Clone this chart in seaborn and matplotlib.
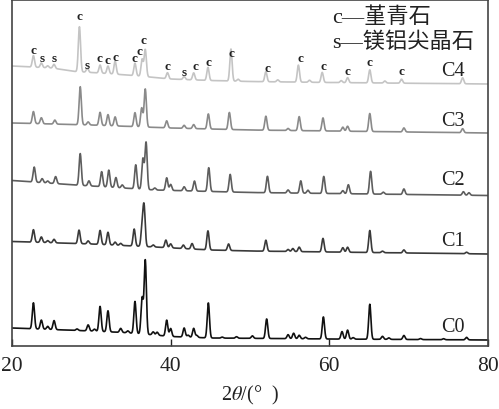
import numpy as np
import pandas as pd
import matplotlib
matplotlib.use('Agg')
import matplotlib.pyplot as plt
import seaborn as sns

# XRD patterns C0..C4: peak positions (2theta) and heights, background levels
# all intensities in the same arbitrary units (stacked plot)
samples = ['C0', 'C1', 'C2', 'C3', 'C4']
colors = ['#111111', '#3a3a3a', '#5e5e5e', '#8a8a8a', '#c4c4c4']

bg_pos = {
    'C0': [20, 30, 34, 38, 40, 45, 60, 80],
    'C1': [20, 30, 38, 45, 50, 60, 80],
    'C2': [20, 28, 38, 50, 60, 80],
    'C3': [20, 30, 40, 50, 60, 80],
    'C4': [20, 25, 28, 32, 36, 40, 45, 50, 60, 80],
}
bg_level = {
    'C0': [18, 15, 13.5, 11, 9.5, 8, 7, 6],
    'C1': [104.5, 102, 99, 96, 95, 94, 92],
    'C2': [165.5, 161, 156, 153.5, 152.5, 150.5],
    'C3': [223, 221, 218, 216, 215, 213],
    'C4': [280, 278, 274.5, 272.5, 270, 267, 265.5, 264.5, 263.5, 262],
}

peak_pos = {
    'C0': [22.7, 23.7, 24.5, 25.3, 28.2, 29.6, 30.4, 31.1, 32.1, 33.7, 34.6, 35.5, 36.4, 36.8,
           37.8, 38.3, 39.5, 40.0, 41.7, 42.2, 42.9, 43.3, 44.75, 46.5, 48.3, 50.3, 52.1,
           54.8, 55.5, 56.2, 57.0, 59.25, 61.6, 62.3, 63.0, 65.1, 66.7, 67.5, 69.4, 71.5,
           74.4, 77.3],
    'C1': [22.7, 23.7, 24.5, 25.3, 28.45, 29.6, 31.1, 32.1, 33.0, 33.7, 35.4, 36.4, 36.65,
           37.8, 39.4, 40.0, 41.6, 42.7, 44.7, 47.3, 52.0, 54.8, 55.4, 56.2, 59.2, 61.7,
           62.3, 65.1, 66.7, 69.4, 77.3],
    'C2': [22.8, 23.8, 24.5, 25.5, 28.6, 29.7, 31.3, 32.2, 33.1, 33.9, 35.6, 36.5, 36.9,
           38.0, 39.5, 40.0, 41.7, 43.0, 44.8, 47.5, 52.2, 54.8, 56.4, 57.3, 59.3, 61.7,
           62.4, 65.2, 66.8, 69.4, 76.9, 77.6],
    'C3': [22.7, 23.7, 25.4, 28.6, 29.6, 31.1, 32.1, 33.0, 35.5, 36.35, 36.8, 39.5, 41.7,
           42.9, 44.75, 47.4, 52.0, 54.8, 56.2, 59.2, 61.7, 62.3, 65.1, 69.4, 76.8],
    'C4': [22.7, 23.7, 24.5, 25.3, 28.5, 29.5, 31.1, 32.1, 33.0, 35.5, 36.4, 36.8, 39.6,
           41.7, 42.9, 44.7, 47.6, 48.5, 52.0, 53.5, 56.1, 57.5, 59.1, 61.5, 62.3, 65.1,
           67.0, 69.1, 76.8],
}
peak_height = {
    'C0': [26, 9, 3, 9, 1.5, 6, 2, 25, 21, 4, 2, 32, 36, 74,
           3, 3, 16, 8, 9, 2, 9, 2, 35, 1, 1.5, 2.5, 19.5,
           4, 5.5, 3.5, 1.5, 22, 7.5, 9, 1.5, 35, 3, 1.5, 4, 1,
           1, 2.5],
    'C1': [12.5, 5.5, 2, 3.5, 13.5, 3, 14, 12.5, 3, 2, 17, 19, 39,
           2, 7.5, 4, 3.5, 5.5, 19, 6.5, 11, 2, 3, 4.5, 13.5, 4.5,
           5, 22, 1.5, 3, 1.5],
    'C2': [15, 4, 2, 7, 31.7, 5, 15, 17, 10, 3, 24, 30.5, 47,
           2, 12.5, 6, 4, 10, 23.7, 17.6, 16.4, 3, 12.3, 3, 17, 3,
           9, 22.7, 2, 5.5, 3.5, 2.5],
    'C3': [12, 6, 4, 38, 3, 13, 11, 9, 14, 19, 38, 7, 3,
           4, 15, 17, 14, 2, 14, 13, 4, 5, 18, 4, 4],
    'C4': [11.5, 4.5, 2, 4, 45, 4, 8, 7.5, 13, 12.5, 17, 27, 6,
           3, 7, 13, 32, 2, 10, 2, 17, 2, 10, 2, 5, 13,
           2, 4, 6],
}

# phase marks above C4: c = cordierite, s = spinel
mark_text = ['c', 's', 's', 'c', 's', 'c', 'c', 'c', 'c', 'c', 'c', 'c', 's', 'c', 'c',
             'c', 'c', 'c', 'c', 'c', 'c', 'c']
mark_pos = [22.7, 23.8, 25.3, 28.5, 29.5, 31.0, 32.0, 33.1, 35.4, 36.1, 36.6, 39.6, 41.7,
            43.1, 44.7, 47.6, 52.2, 56.3, 59.2, 62.3, 65.1, 69.1]
mark_level = [296, 287.7, 287.7, 329.7, 281, 288, 286.3, 288.7, 288, 295.3, 306.3, 280.3,
              273.7, 279.7, 283.7, 293, 278, 287.7, 280.3, 275.3, 283.7, 275.3]

label_level = [19.5, 105, 166, 225, 276]

two_theta = np.linspace(20, 80, 3001)
sigma = 0.14

rows = []
for s in samples:
    y = np.interp(two_theta, bg_pos[s], bg_level[s])
    for p, h in zip(peak_pos[s], peak_height[s]):
        y = y + h * np.exp(-0.5 * ((two_theta - p) / sigma) ** 2)
    rows.append(pd.DataFrame({'two_theta': two_theta, 'intensity': y, 'sample': s}))
df = pd.concat(rows, ignore_index=True)

sns.set_style('ticks')
plt.rcParams['font.family'] = ['Liberation Serif', 'Noto Sans CJK SC']
plt.rcParams['mathtext.fontset'] = 'stix'

fig = plt.figure(figsize=(4.99, 4.10), dpi=100)
ax = fig.add_axes([12 / 499, 1 - 347 / 410, 476 / 499, 346 / 410])

for s, c in zip(samples, colors):
    sns.lineplot(data=df[df['sample'] == s], x='two_theta', y='intensity', ax=ax,
                 color=c, lw=1.2, estimator=None, sort=False)

for t, p, l in zip(mark_text, mark_pos, mark_level):
    ax.text(p, l, t, ha='center', va='center', fontsize=9.5, fontweight='bold', color='#222222')

for s, l in zip(samples, label_level):
    ax.text(75.6, l, s, ha='center', va='center', fontsize=14.5, color='#222222')

ax.text(60.3, 329.5, 'c\u2014堇青石', ha='left', va='center', fontsize=16, color='#222222')
ax.text(60.3, 304.5, 's\u2014镁铝尖晶石', ha='left', va='center', fontsize=16, color='#222222')

ax.set_xlim(20, 80)
ax.set_ylim(0, 346)
ax.set_xticks([20, 40, 60, 80])
ax.set_yticks([])
ax.tick_params(axis='x', direction='in', length=5, width=1, pad=7, labelsize=15.5,
               colors='#222222')
for sp in ax.spines.values():
    sp.set_visible(True)
    sp.set_color('#444444')
    sp.set_linewidth(1.2)
ax.set_xlabel(r'2$\theta$/(°  )', fontsize=14.5, labelpad=6, color='#222222')
ax.set_ylabel('')
legend = ax.get_legend()
if legend is not None:
    legend.remove()

fig.savefig('out.png', dpi=100)
